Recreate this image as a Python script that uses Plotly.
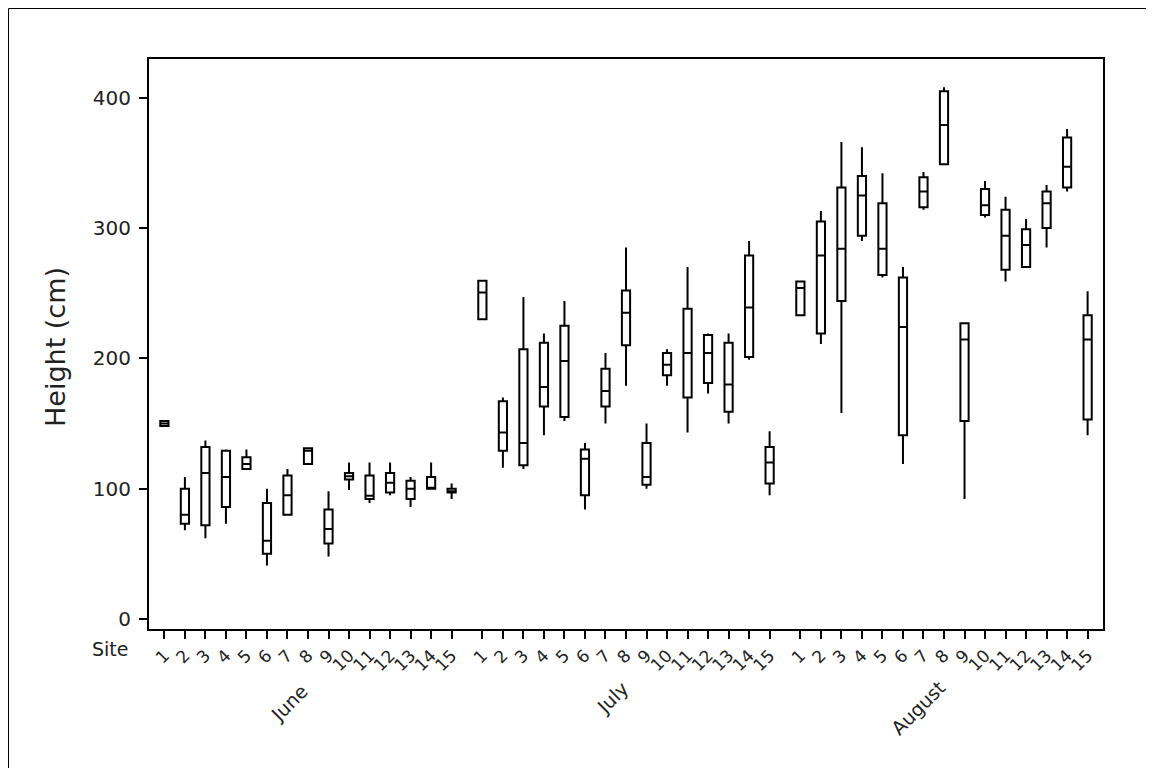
import plotly.graph_objects as go

months = ["June", "July", "August"]
sites = [str(i) for i in range(1, 16)]

# Summary statistics per month, sites 1..15
june_low = [148, 68, 62, 73, 115, 41, 80, 119, 48, 99, 89, 95, 86, 100, 92]
june_q1 = [148, 73, 72, 86, 115, 50, 80, 119, 58, 107, 92, 97, 92, 100, 97]
june_med = [150, 80, 112, 109, 119, 60, 95, 129, 69, 109.5, 94.5, 104.5, 100, 100, 98]
june_q3 = [152, 100, 132, 129, 124, 89, 110, 131, 84, 112, 110, 112, 106, 109, 100]
june_high = [152, 109, 137, 130, 130, 100, 115, 131, 98, 120, 120, 120, 109, 120, 104]

july_low = [230, 116, 115, 141, 152, 84, 150, 179, 100, 179, 143, 173, 150, 199, 95]
july_q1 = [230, 129, 118, 163, 155, 95, 163, 210, 103, 187, 170, 181, 159, 201, 104]
july_med = [250.5, 143, 135, 178, 198, 123, 175, 235, 109, 195, 204, 204, 180, 239, 120]
july_q3 = [259.5, 167, 207, 212, 225, 130, 192, 252, 135, 204, 238, 218, 212, 279, 132]
july_high = [259.5, 170, 247, 219, 244, 135, 204, 285, 150, 207, 270, 219, 219, 290, 144]

aug_low = [233, 211, 158, 290, 262, 119, 314, 349, 92, 308, 259, 270, 285, 328, 141]
aug_q1 = [233, 219, 244, 294, 264, 141, 316, 349, 152, 310, 268, 270, 300, 331, 153]
aug_med = [254, 279, 284, 325, 284, 224, 328, 379, 214.5, 317.5, 294, 287, 319, 347, 214.5]
aug_q3 = [259, 305, 331, 340, 319, 262, 339, 405, 227, 330, 314, 299, 328, 369.5, 233]
aug_high = [259, 313, 366, 362, 342, 270, 343, 408, 227, 336, 324, 307, 333, 376, 251.5]

y_ticks = [0, 100, 200, 300, 400]

stats = [
    (june_low, june_q1, june_med, june_q3, june_high),
    (july_low, july_q1, july_med, july_q3, july_high),
    (aug_low, aug_q1, aug_med, aug_q3, aug_high),
]

GAP = 1.5
n = len(sites)
fig = go.Figure()
xpos_all, ticktext = [], []
for m, (lo, q1, med, q3, hi) in enumerate(stats):
    xs = [m * (n - 1 + GAP) + i for i in range(n)]
    xpos_all += xs
    ticktext += sites
    fig.add_trace(go.Box(
        x=xs, q1=q1, median=med, q3=q3, lowerfence=lo, upperfence=hi,
        width=0.4, whiskerwidth=0, boxpoints=False,
        line=dict(color="black", width=2), fillcolor="white",
        showlegend=False, hoverinfo="skip",
    ))

last = xpos_all[-1]
FONT = "DejaVu Sans"
OFF = 8  # page body margin
W, H = 1154 - OFF, 768 - OFF
L, T, R, B = 149 - OFF, 59 - OFF, 51, 139
fig.update_layout(
    width=W, height=H,
    margin=dict(l=L, r=R, t=T, b=B),
    paper_bgcolor="white", plot_bgcolor="white",
    font=dict(family=FONT, color="#222"),
    xaxis=dict(
        range=[-0.75, last + 0.75], tickmode="array", tickvals=xpos_all, ticktext=ticktext,
        tickangle=-45, ticks="outside", ticklen=8, tickwidth=2, tickcolor="black",
        showline=True, linecolor="black", linewidth=2, mirror=True,
        showgrid=False, zeroline=False, tickfont=dict(size=17, family=FONT),
    ),
    yaxis=dict(
        range=[-7.7, 429.7], tickmode="array", tickvals=y_ticks,
        ticks="outside", ticklen=8, tickwidth=2, tickcolor="black",
        showline=True, linecolor="black", linewidth=2, mirror=True,
        showgrid=False, zeroline=False, tickfont=dict(size=20, family=FONT),
        ticklabelstandoff=4,
    ),
)

pw, ph = 954, 570
def px(xp):
    return (xp - 149) / pw
def py(yp):
    return (629 - yp) / ph

fig.add_annotation(x=px(55), y=py(347), xref="paper", yref="paper", text="Height (cm)",
                   textangle=-90, showarrow=False, font=dict(size=27, family=FONT, color="#222"),
                   xanchor="center", yanchor="middle")
fig.add_annotation(x=px(110), y=py(649), xref="paper", yref="paper", text="Site",
                   showarrow=False, font=dict(size=19, family=FONT, color="#222"),
                   xanchor="center", yanchor="middle")
month_centers = [(289, 703), (612, 698), (918, 708)]
for name, (cx, cy) in zip(months, month_centers):
    fig.add_annotation(x=px(cx), y=py(cy), xref="paper", yref="paper", text=name,
                       textangle=-45, showarrow=False, font=dict(size=19, family=FONT, color="#222"),
                       xanchor="center", yanchor="middle")

fig.add_shape(type="rect", xref="paper", yref="paper",
              x0=px(8.5), x1=px(1153), y0=py(8.5), y1=py(800),
              line=dict(color="black", width=1), fillcolor="rgba(0,0,0,0)", layer="below")

fig.write_html("out.html")
